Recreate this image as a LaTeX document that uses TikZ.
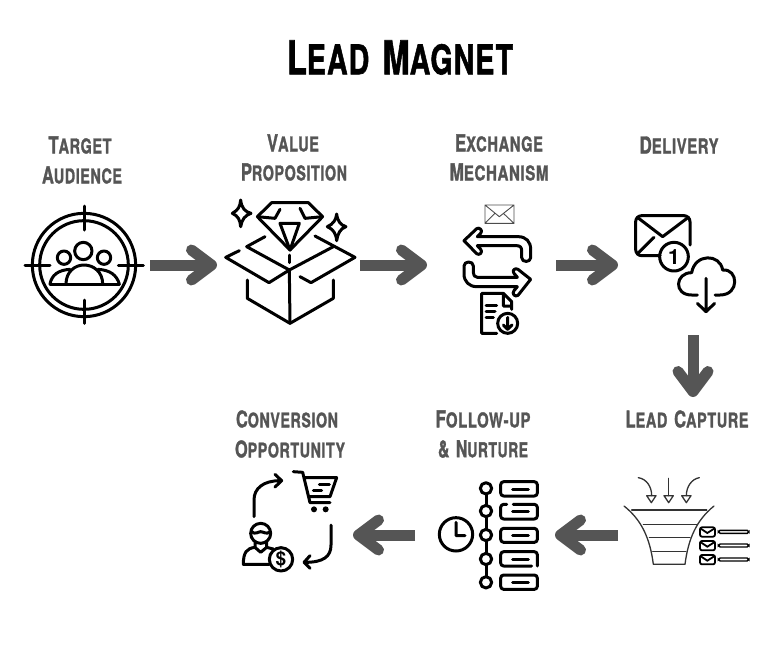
\documentclass[tikz,border=0pt]{standalone}
\usepackage{fontspec}
\usepackage{graphicx}
\setmainfont{TeX Gyre Heros}
\newfontfamily\hdfont{TeX Gyre Heros}[BoldFeatures={FakeBold=1.6,LetterSpace=4}]
\usetikzlibrary{arrows.meta}
\definecolor{labgray}{HTML}{555555}
\newcommand{\smc}[2]{{\hdfont\bfseries\fontsize{24pt}{24pt}\selectfont #1}{\hdfont\bfseries\fontsize{21pt}{21pt}\selectfont\uppercase{#2}}}
\newcommand{\wsp}{\hspace{7pt}}
\newcommand{\fit}[3]{\resizebox{#1pt}{#2pt}{#3}}
\tikzset{
  lab/.style={inner sep=0pt,text=labgray},
  ttl/.style={inner sep=0pt,text=black},
  flow/.style={draw=labgray,line width=11pt,-{Straight Barb[length=20pt,width=30pt,round,line width=11pt]},shorten >=0pt},
  ico/.style={line width=3pt,line cap=round,line join=round,black},
  thin ico/.style={line width=1.3pt,line cap=round,line join=round,black!80},
  zoomed/.style={x=0.33333pt,y=-0.33333pt},
}
\begin{document}
\begin{tikzpicture}[x=1pt,y=-1pt]
\useasboundingbox (0,0) rectangle (768,646);
% texts
\node[ttl] (title) at (400,57.5) {\fit{226}{34}{\smc{L}{ead}\wsp{} \smc{M}{agnet}}};
\node[lab] (t1a) at (80,145) {\fit{63}{17}{\smc{T}{arget}}};
\node[lab] (t1b) at (82,175) {\fit{80}{17}{\smc{A}{udience}}};
\node[lab] (t2a) at (293,143) {\fit{52}{17}{\smc{V}{alue}}};
\node[lab] (t2b) at (294,172) {\fit{106}{17}{\smc{P}{roposition}}};
\node[lab] (t3a) at (499,143) {\fit{88}{17}{\smc{E}{xchange}}};
\node[lab] (t3b) at (499,172) {\fit{99}{17}{\smc{M}{echanism}}};
\node[lab] (t4) at (679,145) {\fit{79}{17}{\smc{D}{elivery}}};
\node[lab] (t5) at (687,419) {\fit{123}{17}{\smc{L}{ead}\wsp{} \smc{C}{apture}}};
\node[lab] (t6a) at (483,419) {\fit{95}{17}{\smc{F}{ollow-up}}};
\node[lab] (t6b) at (483,449) {\fit{90}{17}{\smc{\&}{}\wsp{} \smc{N}{urture}}};
\node[lab] (t7a) at (287,419) {\fit{102}{17}{\smc{C}{onversion}}};
\node[lab] (t7b) at (290,449) {\fit{110}{17}{\smc{O}{pportunity}}};
% flow arrows
\coordinate (a1s) at (150,265); \coordinate (a1e) at (217,265);
\coordinate (a2s) at (360,265); \coordinate (a2e) at (427,265);
\coordinate (a3s) at (556,265); \coordinate (a3e) at (618,265);
\coordinate (a4s) at (693,335); \coordinate (a4e) at (693,397);
\coordinate (a5s) at (618,535); \coordinate (a5e) at (555,535);
\coordinate (a6s) at (415,535); \coordinate (a6e) at (353,535);
\foreach \s/\e in {a1s/a1e,a2s/a2e,a3s/a3e,a4s/a4e,a5s/a5e,a6s/a6e}
  \draw[flow] (\s) -- (\e);
% icon 1 target
\begin{scope}[shift={(20,190)},zoomed]
\draw[ico] (192,225) circle (155);
\draw[ico] (192,225) circle (133);
\draw[ico] (192,48)--(192,120) (192,330)--(192,400) (15,225)--(90,225) (295,225)--(370,225);
\draw[ico] (190,183) circle (26) (132,203) circle (20) (252,203) circle (20);
\draw[ico] (90,282)--(298,282);
\draw[ico] (138,282) .. controls (138,245) and (165,225) .. (192,225) .. controls (220,225) and (248,245) .. (248,282);
\draw[ico] (90,282) .. controls (95,255) and (115,240) .. (150,238);
\draw[ico] (298,282) .. controls (290,255) and (270,240) .. (234,238);
\end{scope}
% icon 2 box
\begin{scope}[shift={(20,190)},zoomed]
\draw[ico] (658,182)--(617,202)--(747,278)--(808,240)--(810,400);
\draw[ico] (840,260)--(873,278)--(1005,202)--(885,138);
\draw[ico] (735,140)--(680,170)--(808,240)--(940,170);
\draw[ico] (682,270)--(682,325)--(810,400)--(940,325)--(940,270);
\draw[ico] (810,195)--(810,218);
\draw[ico] (755,38)--(865,38)--(908,80)--(810,180)--(712,80)--cycle;
\draw[ico] (712,80)--(765,85)--(780,58) (908,80)--(855,85)--(840,55);
\draw[ico] (780,100)--(838,100)--(810,180)--cycle;
\draw[ico] (662,30) .. controls (665,55) and (675,65) .. (693,70) .. controls (675,75) and (665,90) .. (662,110) .. controls (660,90) and (655,78) .. (637,70) .. controls (655,60) and (660,50) .. (662,30) -- cycle;
\draw[ico] (950,72) .. controls (953,95) and (962,105) .. (978,110) .. controls (962,115) and (953,130) .. (950,152) .. controls (948,130) and (940,118) .. (922,110) .. controls (940,102) and (948,90) .. (950,72) -- cycle;
\end{scope}
% icon 3 exchange
\begin{scope}[shift={(440,190)},zoomed]
\draw[line width=0.9pt,black!70] (135,45) rectangle (222,100) (135,45)--(178,80)--(222,45) (135,100)--(165,70) (222,100)--(190,70);
\draw[ico] (72,152)--(110,116) .. controls (118,110) and (130,122) .. (122,130) -- (112,140) -- (235,140) .. controls (258,140) and (272,155) .. (272,178) -- (272,203) .. controls (272,218) and (245,218) .. (245,203) -- (245,182) .. controls (245,172) and (240,167) .. (230,167) -- (112,167) -- (122,178) .. controls (130,186) and (118,198) .. (110,191) -- cycle;
\draw[ico] (272,268)--(234,238) .. controls (226,232) and (214,242) .. (222,250) -- (232,262) -- (112,262) .. controls (104,262) and (100,255) .. (100,248) -- (100,228) .. controls (100,212) and (72,212) .. (72,228) -- (72,252) .. controls (72,275) and (88,290) .. (110,290) -- (232,290) -- (222,302) .. controls (214,312) and (226,322) .. (234,316) -- cycle;
\draw[ico] (170,430)--(125,430)--(125,310)--(190,310)--(215,335)--(215,358) (190,310)--(190,348)--(215,348);
\draw[ico] (138,347)--(170,347) (138,365)--(165,365) (138,383)--(160,383);
\draw[ico] (203,400) circle (30) (203,382)--(203,418) (190,405)--(203,418)--(216,405);
\end{scope}
% icon 4 delivery
\begin{scope}[shift={(440,190)},zoomed]
\draw[ico,rounded corners=6pt] (660,197)--(587,197)--(587,77)--(750,77)--(750,165);
\draw[ico] (592,82)--(668,140)--(745,82) (592,192)--(642,142);
\draw[ico] (702,200) circle (43);
\node[inner sep=0pt] (one) at (702,200) {\fontsize{21pt}{21pt}\selectfont\bfseries 1};
\draw[ico] (772,315)--(755,315) .. controls (700,315) and (705,248) .. (755,248) .. controls (765,190) and (840,190) .. (848,240) .. controls (895,235) and (900,315) .. (840,315)--(825,315);
\draw[ico] (798,265)--(798,365) (772,340)--(798,365)--(824,340);
\end{scope}
% icon 5 funnel
\begin{scope}[shift={(550,465)},zoomed]
\draw[thin ico] (222,123) .. controls (275,165) and (300,220) .. (310,298)--(405,298) .. controls (415,220) and (440,165) .. (492,123);
\draw[thin ico] (245,135)--(470,135) (280,178)--(440,178) (298,218)--(420,218) (308,260)--(408,260);
\draw[thin ico] (265,38) .. controls (290,42) and (305,65) .. (305,92);
\draw[thin ico] (356,40)--(356,92);
\draw[thin ico] (448,38) .. controls (425,42) and (409,65) .. (409,92);
\draw[thin ico] (290,92)--(318,92)--(304,113)--cycle (342,92)--(370,92)--(356,113)--cycle (395,92)--(423,92)--(409,113)--cycle;
\foreach \y in {187,228,270}{
  \draw[line width=1.8pt,black,rounded corners=2pt] (450,\y) rectangle (495,\y+28);
  \draw[line width=1.8pt,black] (451,\y+3)--(472,\y+17)--(494,\y+3);
  \draw[line width=1.4pt,black,rounded corners=1.8pt] (505,\y+9) rectangle (597,\y+18);
}
\end{scope}
% icon 6 timeline
\begin{scope}[shift={(230,465)},zoomed]
\draw[ico] (678,208) circle (50) (678,172)--(678,212)--(705,212);
\draw[ico] (768,87)--(768,121) (768,155)--(768,193) (768,227)--(768,265) (768,299)--(768,335);
\foreach \y in {70,138,210,282,352} \draw[ico] (768,\y) circle (17);
\draw[ico,rounded corners=3pt] (812,50) rectangle (922,93);
\draw[ico,rounded corners=3pt] (850,118)--(922,118)--(922,162)--(812,162)--(812,118)--(830,118);
\draw[ico,rounded corners=3pt] (812,190) rectangle (922,232);
\draw[ico,rounded corners=3pt] (905,303)--(812,303)--(812,260)--(922,260)--(922,303);
\draw[ico,rounded corners=3pt] (812,330) rectangle (922,373);
\draw[ico] (848,72)--(895,72) (848,140)--(895,140) (848,211)--(895,211) (848,282)--(895,282) (848,352)--(895,352);
\end{scope}
% icon 7 conversion
\begin{scope}[shift={(230,465)},zoomed]
\draw[ico] (72,155)--(72,105) .. controls (72,70) and (100,47) .. (150,47) (135,28)--(155,47)--(135,66);
\draw[ico] (190,20)--(218,22)--(240,113)--(300,113) (225,38)--(320,38)--(300,95)--(240,95);
\draw[ico] (268,58)--(298,58) (250,76)--(275,76);
\fill (252,133) circle (9) (287,133) circle (9);
\draw[ico] (303,180)--(303,240) .. controls (303,275) and (280,292) .. (225,292) (240,272)--(222,292)--(240,310);
\draw[ico] (92,205) circle (30);
\draw[ico] (65,200) .. controls (75,210) and (85,200) .. (92,200) .. controls (100,200) and (110,210) .. (120,200);
\draw[ico] (75,232)--(75,247)--(92,262)--(110,247)--(110,232);
\draw[ico] (75,247) .. controls (50,250) and (40,262) .. (40,298)--(118,298);
\draw[ico] (110,247)--(130,252);
\draw[ico] (153,283) circle (35);
\node[inner sep=0pt] (dollar) at (153,283) {\fontsize{19pt}{19pt}\selectfont\bfseries\$};
\end{scope}
\end{tikzpicture}
\end{document}
